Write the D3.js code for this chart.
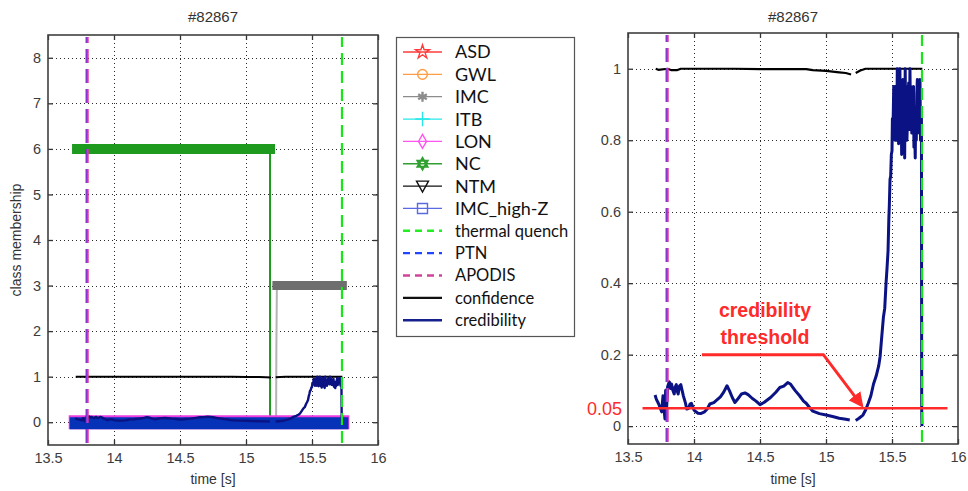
<!DOCTYPE html>
<html>
<head>
<meta charset="utf-8">
<script src="https://cdn.jsdelivr.net/npm/d3@7"></script>
<style>
  body { margin: 0; background: #fff; }
  text { font-family: "Liberation Sans", Arial, sans-serif; }
</style>
</head>
<body>
<svg id="fig" width="968" height="491"></svg>
<script>
// ---- shot and axis settings ----
const shotLabel = "#82867";
const xLabel = "time [s]";
const classAxisLabel = "class membership";
const timeTicks = [13.5, 14, 14.5, 15, 15.5, 16];
const classTicks = [0, 1, 2, 3, 4, 5, 6, 7, 8];
const scoreTicks = [0, 0.2, 0.4, 0.6, 0.8, 1];

// ---- event times [s] ----
const thermalQuenchTime = 15.727;
const ptnTime = 13.793;
const apodisTime = 13.80;

// ---- classifier outputs (class index vs time) ----
const asdTime = [13.71, 15.73];           const asdClass = [0, 0];
const gwlTime = [13.71, 15.73];           const gwlClass = [0, 0];
const imcTime = [13.71, 15.228, 15.230, 15.234, 15.73];
const imcClass = [0, 0, 1.6, 3, 3];
const itbTime = [13.71, 15.73];           const itbClass = [0, 0];
const lonTime = [13.71, 15.73];           const lonClass = [0, 0];
const ncTime = [13.72, 15.182, 15.182, 15.73];
const ncClass = [6, 6, 0, 0];
const ntmTime = [13.71, 15.73];           const ntmClass = [0, 0];
const highZTime = [13.71, 15.73];         const highZClass = [0, 0];

// ---- confidence of the prediction ----
const confTime = [13.71, 13.73, 13.80, 13.83, 13.87, 13.90, 14.30, 14.50, 14.85, 14.90, 15.00,
                  15.10, 15.15, 15.19, 15.205, 15.225, 15.26, 15.30, 15.73];
const confValue = [1.0, 0.997, 1.0, 0.996, 0.996, 1.0, 1.0, 0.999, 0.999, 0.996, 0.994,
                   0.99, 0.988, 0.984, NaN, 0.988, 0.995, 1.0, 1.0];

// ---- credibility of the prediction ----
const credTime = [13.705, 13.715, 13.73, 13.745, 13.755, 13.765, 13.77, 13.78, 13.785, 13.79,
  13.80, 13.813, 13.822, 13.83, 13.84, 13.85, 13.858, 13.866, 13.873, 13.88,
  13.89, 13.90, 13.91, 13.92, 13.935, 13.945, 13.96, 13.97, 13.98, 13.99,
  14.0, 14.015, 14.03, 14.05, 14.08, 14.1, 14.12, 14.15, 14.2, 14.225,
  14.25, 14.27, 14.29, 14.31, 14.33, 14.36, 14.386, 14.41, 14.44, 14.47,
  14.5, 14.53, 14.58, 14.62, 14.65, 14.68, 14.71, 14.73, 14.75, 14.77,
  14.8, 14.83, 14.85, 14.88, 14.9, 14.95, 15.0, 15.05, 15.1, 15.15,
  15.18, 15.2, 15.225, 15.25, 15.28, 15.30, 15.32, 15.34, 15.36, 15.38,
  15.40, 15.41, 15.42, 15.435, 15.445, 15.455, 15.462, 15.47, 15.476, 15.48,
  15.485, 15.49, 15.495, 15.50, 15.503, 15.506, 15.51, 15.513, 15.516, 15.52,
  15.523, 15.526, 15.53, 15.533, 15.536, 15.54, 15.543, 15.546, 15.55, 15.553,
  15.556, 15.56, 15.563, 15.566, 15.57, 15.573, 15.576, 15.58, 15.583, 15.586,
  15.59, 15.593, 15.596, 15.60, 15.603, 15.606, 15.61, 15.613, 15.616, 15.62,
  15.623, 15.626, 15.63, 15.633, 15.636, 15.64, 15.643, 15.646, 15.65, 15.653,
  15.656, 15.66, 15.663, 15.666, 15.67, 15.673, 15.676, 15.68, 15.684, 15.688,
  15.692, 15.696, 15.70, 15.704, 15.708, 15.712, 15.716, 15.72, 15.723, 15.725, 15.727];
const credValue = [0.087, 0.075, 0.064, 0.05, 0.04, 0.085, 0.06, 0.02, 0.10, 0.03,
  0.11, 0.124, 0.105, 0.118, 0.10, 0.09, 0.11, 0.116, 0.098, 0.09,
  0.112, 0.116, 0.10, 0.084, 0.065, 0.048, 0.05, 0.062, 0.064, 0.055,
  0.045, 0.04, 0.036, 0.035, 0.04, 0.048, 0.062, 0.066, 0.082, 0.095,
  0.113, 0.098, 0.08, 0.066, 0.075, 0.09, 0.093, 0.088, 0.078, 0.07,
  0.06, 0.066, 0.08, 0.095, 0.108, 0.112, 0.122, 0.118, 0.108, 0.098,
  0.085, 0.07, 0.064, 0.05, 0.042, 0.035, 0.031, 0.027, 0.022, 0.019,
  0.017, NaN, 0.016, 0.022, 0.031, 0.045, 0.064, 0.085, 0.118, 0.14,
  0.17, 0.195, 0.24, 0.305, 0.33, 0.40, 0.44, 0.49, 0.58, 0.62,
  0.69, 0.70, 0.76, 0.77, 0.86, 0.82, 0.88, 0.95, 0.84, 0.90,
  0.80, 0.95, 0.83, 0.92, 0.80, 1.00, 0.86, 0.92, 0.79, 0.90,
  0.84, 1.00, 0.80, 0.96, 0.90, 0.76, 0.92, 0.88, 0.97, 0.80,
  0.78, 0.94, 0.75, 1.00, 0.85, 0.93, 0.88, 0.80, 0.84, 0.95,
  0.86, 0.96, 0.92, 0.83, 1.00, 0.87, 0.95, 0.86, 0.82, 0.93,
  0.88, 0.85, 0.95, 0.78, 0.88, 0.80, 0.75, 0.89, 0.80, 0.93,
  0.97, 0.82, 0.96, 0.88, 0.86, 0.97, 0.80, 0.88, 0.87, 0.05, 0.0];

// ---- credibility threshold annotation ----
const thresholdValue = 0.05;
const thresholdSpan = [13.61, 15.92];
const arrowTime = [14.06, 14.98, 15.27];
const arrowValue = [0.2, 0.2, 0.058];
const annotationLines = ["credibility", "threshold"];

// ---- legend entries ----
const legendNames = ["ASD", "GWL", "IMC", "ITB", "LON", "NC", "NTM", "IMC_high-Z",
                     "thermal quench", "PTN", "APODIS", "confidence", "credibility"];

const zip = (t, v) => t.map((d, i) => ({ t: d, v: v[i] }));

const svg = d3.select("#fig");

// shared drawing helpers
function panel(box, yDomain, yTicks, showYLabel) {
  const x = d3.scaleLinear().domain([13.5, 16]).range([box.left, box.right]);
  const y = d3.scaleLinear().domain(yDomain).range([box.bottom, box.top]);
  const g = svg.append("g");

  // dotted grid
  const grid = g.append("g").attr("stroke", "#2a2a2a").attr("stroke-width", 1)
    .attr("stroke-dasharray", "1,3");
  grid.selectAll(".gx").data(timeTicks.slice(1, -1)).join("line")
    .attr("x1", d => Math.round(x(d)) + 0.5).attr("x2", d => Math.round(x(d)) + 0.5)
    .attr("y1", box.top).attr("y2", box.bottom);
  grid.selectAll(".gy").data(yTicks).join("line")
    .attr("y1", d => Math.round(y(d)) + 0.5).attr("y2", d => Math.round(y(d)) + 0.5)
    .attr("x1", box.left).attr("x2", box.right);

  // axes with inward ticks on all four sides
  const tickStyle = sel => {
    sel.select(".domain").remove();
    sel.selectAll(".tick line").attr("stroke", "#333").attr("stroke-width", 1.3);
    sel.selectAll(".tick text").attr("fill", "#3c3c3c")
      .style("font-family", "'Liberation Sans', Arial, sans-serif").style("font-size", "14.5px");
  };
  g.append("g").attr("transform", `translate(0,${box.bottom})`)
    .call(d3.axisBottom(x).tickValues(timeTicks).tickSize(-5).tickPadding(8).tickFormat(d3.format("")))
    .call(tickStyle);
  g.append("g").attr("transform", `translate(0,${box.top})`)
    .call(d3.axisTop(x).tickValues(timeTicks).tickSize(-5).tickFormat(""))
    .call(tickStyle);
  g.append("g").attr("transform", `translate(${box.left},0)`)
    .call(d3.axisLeft(y).tickValues(yTicks).tickSize(-5).tickPadding(7).tickFormat(d3.format("")))
    .call(tickStyle);
  g.append("g").attr("transform", `translate(${box.right},0)`)
    .call(d3.axisRight(y).tickValues(yTicks).tickSize(-5).tickFormat(""))
    .call(tickStyle);

  // frame
  g.append("rect").attr("x", box.left).attr("y", box.top)
    .attr("width", box.right - box.left).attr("height", box.bottom - box.top)
    .attr("fill", "none").attr("stroke", "#404040").attr("stroke-width", 1.6);

  // titles
  g.append("text").attr("x", (box.left + box.right) / 2).attr("y", 22)
    .attr("text-anchor", "middle").attr("fill", "#333").style("font-size", "15px").text(shotLabel);
  g.append("text").attr("x", (box.left + box.right) / 2).attr("y", 484)
    .attr("text-anchor", "middle").attr("fill", "#333").style("font-size", "14px").text(xLabel);
  if (showYLabel) {
    g.append("text").attr("transform", `translate(21,${(box.top + box.bottom) / 2}) rotate(-90)`)
      .attr("text-anchor", "middle").attr("fill", "#333").style("font-size", "14px").text(classAxisLabel);
  }

  const plot = g.append("g");
  return { x, y, g: plot };
}

function drawLine(p, data, color, width) {
  const line = d3.line().defined(d => !isNaN(d.v)).x(d => p.x(d.t)).y(d => p.y(d.v));
  return p.g.append("path").datum(data).attr("d", line).attr("fill", "none")
    .attr("stroke", color).attr("stroke-width", width).attr("stroke-linejoin", "round");
}

// dense marker runs are drawn as bands along the constant parts of a series
function drawMarkerBand(p, data, value, color, width, dy) {
  const runs = [];
  for (let i = 0; i < data.length - 1; i++) {
    if (data[i].v === value && data[i + 1].v === value) runs.push([data[i], data[i + 1]]);
  }
  p.g.selectAll(null).data(runs).join("line")
    .attr("x1", d => p.x(d[0].t)).attr("x2", d => p.x(d[1].t))
    .attr("y1", d => p.y(d[0].v) + (dy || 0)).attr("y2", d => p.y(d[1].v) + (dy || 0))
    .attr("stroke", color).attr("stroke-width", width).attr("stroke-linecap", "square");
}

function drawEvent(p, t, color, dash) {
  const [y0, y1] = p.y.range();
  p.g.append("line").attr("x1", p.x(t)).attr("x2", p.x(t)).attr("y1", y0 - 2).attr("y2", y1 + 2)
    .attr("stroke", color).attr("stroke-width", 2.2).attr("stroke-dasharray", dash);
}

const eventColors = { tq: "#19e619", ptn: "#2a3cff", apodis: "#e0309a" };
const credColor = "#0b1283";

// ================= left panel: class membership =================
const L = panel({ left: 48, right: 378, top: 35, bottom: 445 }, [-0.5, 8.5], classTicks, true);

const nc = zip(ncTime, ncClass);
const imc = zip(imcTime, imcClass);
const lon = zip(lonTime, lonClass);
const highZ = zip(highZTime, highZClass);

[[asdTime, asdClass, "#ff3030"], [gwlTime, gwlClass, "#ff9a3c"], [itbTime, itbClass, "#22e5e5"],
 [ntmTime, ntmClass, "#000"]].forEach(([t, v, c]) => drawLine(L, zip(t, v), c, 1.5));

drawLine(L, nc, "#1e9a1e", 2);
drawMarkerBand(L, nc, 6, "#1e9a1e", 10);
drawLine(L, imc, "#b4b4b4", 2);
drawMarkerBand(L, imc, 3, "#6e6e6e", 9);
drawMarkerBand(L, lon, 0, "#ee3ee0", 14, 0);
drawMarkerBand(L, highZ, 0, "#0632b8", 12, 1);

drawLine(L, zip(confTime, confValue), "#000", 2);
drawLine(L, zip(credTime, credValue), credColor, 2.4);

drawEvent(L, ptnTime, eventColors.ptn, "14,6");
drawEvent(L, apodisTime, eventColors.apodis, "14,6");
drawEvent(L, thermalQuenchTime, eventColors.tq, "12,6");

// ================= right panel: confidence and credibility =================
const R = panel({ left: 628, right: 958, top: 33, bottom: 444 }, [-0.05, 1.1], scoreTicks, false);

drawLine(R, zip(confTime, confValue), "#000", 2.2);
drawLine(R, zip(credTime, credValue), credColor, 3);
drawEvent(R, ptnTime, eventColors.ptn, "14,6");
drawEvent(R, apodisTime, eventColors.apodis, "14,6");
drawEvent(R, thermalQuenchTime, eventColors.tq, "12,6");

// threshold line, label and arrow
const red = "#ff2a2a";
R.g.append("line").attr("x1", R.x(thresholdSpan[0])).attr("x2", R.x(thresholdSpan[1]))
  .attr("y1", R.y(thresholdValue)).attr("y2", R.y(thresholdValue))
  .attr("stroke", red).attr("stroke-width", 2.6);
svg.append("text").attr("x", 622).attr("y", R.y(thresholdValue)).attr("dy", "0.36em")
  .attr("text-anchor", "end").attr("fill", red).style("font-size", "18px")
  .text(d3.format(".2f")(thresholdValue));

svg.append("defs").append("marker").attr("id", "arrowhead")
  .attr("viewBox", "0 0 10 10").attr("refX", 8).attr("refY", 5)
  .attr("markerWidth", 5).attr("markerHeight", 5).attr("orient", "auto")
  .append("path").attr("d", "M0,0 L10,5 L0,10 Z").attr("fill", red);
R.g.append("path").datum(zip(arrowTime, arrowValue))
  .attr("d", d3.line().x(d => R.x(d.t)).y(d => R.y(d.v)))
  .attr("fill", "none").attr("stroke", red).attr("stroke-width", 3)
  .attr("marker-end", "url(#arrowhead)");

svg.append("g").selectAll("text").data(annotationLines).join("text")
  .attr("x", 765).attr("y", (d, i) => 317 + i * 27)
  .attr("text-anchor", "middle").attr("fill", red)
  .style("font-size", "19.5px").style("font-weight", "bold").text(d => d);

// ================= legend =================
const lg = svg.append("g");
lg.append("rect").attr("x", 396.5).attr("y", 37.5).attr("width", 178).attr("height", 299)
  .attr("fill", "#fff").attr("stroke", "#555").attr("stroke-width", 1.2);

const hexagram = r => {
  const a = d3.range(6).map(i => [r * Math.sin(i * Math.PI / 3), -r * Math.cos(i * Math.PI / 3)]);
  const t1 = [a[0], a[2], a[4]], t2 = [a[1], a[3], a[5]];
  return "M" + t1.join("L") + "Z" + "M" + t2.join("L") + "Z";
};
const legendStyle = [
  { c: "#ff3b3b", sym: () => d3.symbol(d3.symbolStar, 60)() },
  { c: "#ff9c45", sym: () => d3.symbol(d3.symbolCircle, 75)() },
  { c: "#8c8c8c", sym: () => d3.symbol(d3.symbolAsterisk, 70)(), w: 2.4 },
  { c: "#25e8e8", sym: () => d3.symbol(d3.symbolPlus, 70)() },
  { c: "#ff55f0", sym: () => "M0,-7L4,0L0,7L-4,0Z" },
  { c: "#2fa02f", sym: () => hexagram(6), w: 1.8 },
  { c: "#111", sym: () => "M-6,-5L6,-5L0,6Z" },
  { c: "#5a6ae0", sym: () => "M-5,-5L5,-5L5,5L-5,5Z" },
  { c: "#22ee22", dash: "7,5", w: 2.4 },
  { c: "#2244ff", dash: "7,5", w: 2.4 },
  { c: "#d0449a", dash: "7,5", w: 2.4 },
  { c: "#111", w: 2.4 },
  { c: "#16208c", w: 2.6 }
];
const rows = lg.selectAll("g.row").data(legendNames).join("g")
  .attr("transform", (d, i) => `translate(0,${52 + i * 22.35})`);
rows.append("line").attr("x1", 403).attr("x2", 442).attr("y1", 0).attr("y2", 0)
  .attr("stroke", (d, i) => legendStyle[i].c)
  .attr("stroke-width", (d, i) => legendStyle[i].dash || i >= 11 ? legendStyle[i].w : 1.3)
  .attr("stroke-dasharray", (d, i) => legendStyle[i].dash || null);
rows.filter((d, i) => legendStyle[i].sym).append("path")
  .attr("transform", "translate(422.5,0)")
  .attr("d", d => legendStyle[legendNames.indexOf(d)].sym())
  .attr("fill", "none")
  .attr("stroke", d => legendStyle[legendNames.indexOf(d)].c)
  .attr("stroke-width", d => legendStyle[legendNames.indexOf(d)].w || 1.4);
rows.append("text").attr("x", 455).attr("y", 0).attr("dy", "0.36em")
  .attr("fill", "#111")
  .style("font-family", "Lato, 'Open Sans', sans-serif")
  .style("font-size", (d, i) => i < 8 ? "18px" : "16.5px")
  .text(d => d);
</script>
</body>
</html>
